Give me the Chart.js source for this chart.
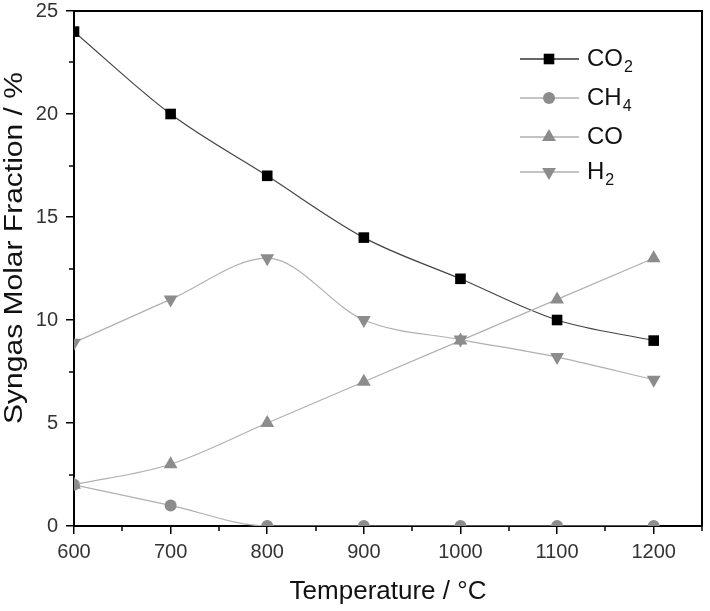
<!DOCTYPE html>
<html>
<head>
<meta charset="utf-8">
<script src="https://cdn.jsdelivr.net/npm/chart.js@4"></script>
<style>
  html, body { margin: 0; padding: 0; background: #fff; }
  #wrap { width: 710px; height: 611px; }
</style>
</head>
<body>
<div id="wrap"><canvas id="myChart" width="710" height="611"></canvas></div>
<script>
// Data
const temps = [600, 700, 800, 900, 1000, 1100, 1200];
const co2 = [24, 20, 17, 14, 12, 10, 9];
const ch4 = [2, 1, 0, 0, 0, 0, 0];
const co = [2, 3, 5, 7, 9, 11, 13];
const h2 = [8.9, 11, 13, 10, 9.05, 8.2, 7.1];

const xMajor = [600, 700, 800, 900, 1000, 1100, 1200];
const xMinor = [650, 750, 850, 950, 1050, 1150, 1250];
const yMajor = [0, 5, 10, 15, 20, 25];
const yMinor = [2.5, 7.5, 12.5, 17.5, 22.5];

const FONT = "'Liberation Sans', Arial, sans-serif";
const Y_TITLE = 'Syngas Molar Fraction / %';

function toPoints(vals) {
    return temps.map((t, i) => ({ x: t, y: vals[i] }));
}

// Legend entries: base text + subscript
const legendItems = [
    { base: 'CO', sub: '2', line: '#333', marker: '#000', style: 'rect', radius: 7.5 },
    { base: 'CH', sub: '4', line: '#b0b0b0', marker: '#8c8c8c', style: 'circle', radius: 6 },
    { base: 'CO', sub: '', line: '#b0b0b0', marker: '#8c8c8c', style: 'triangle', radius: 8 },
    { base: 'H', sub: '2', line: '#b0b0b0', marker: '#8c8c8c', style: 'triangle', radius: 8, rot: 180 }
];

// Frame, minor ticks, y title and legend drawn on top
const framePlugin = {
    id: 'frame',
    afterDraw(chart) {
        const ctx = chart.ctx;
        const a = chart.chartArea;
        const xs = chart.scales.x, ys = chart.scales.y;
        ctx.save();
        ctx.strokeStyle = '#000';
        ctx.lineWidth = 2;
        ctx.beginPath();
        ctx.moveTo(a.left, a.top);
        ctx.lineTo(a.right, a.top);
        ctx.lineTo(a.right, a.bottom);
        ctx.stroke();
        // minor ticks
        ctx.lineWidth = 1.5;
        ctx.beginPath();
        xMinor.forEach(v => {
            const px = Math.round(xs.getPixelForValue(v));
            ctx.moveTo(px, a.bottom);
            ctx.lineTo(px, a.bottom + 5);
        });
        yMinor.forEach(v => {
            const py = Math.round(ys.getPixelForValue(v));
            ctx.moveTo(a.left, py);
            ctx.lineTo(a.left - 5, py);
        });
        ctx.stroke();

        // y title (stretched along its length like the original export)
        ctx.save();
        ctx.translate(22, 248);
        ctx.rotate(-Math.PI / 2);
        ctx.scale(1.2, 1);
        ctx.fillStyle = '#111';
        ctx.font = '25px ' + FONT;
        ctx.textAlign = 'center';
        ctx.textBaseline = 'alphabetic';
        ctx.fillText(Y_TITLE, 0, 0);
        ctx.restore();

        // legend
        const rows = [59, 98, 137, 172];
        legendItems.forEach((it, i) => {
            const y = rows[i];
            ctx.strokeStyle = it.line;
            ctx.lineWidth = 1.3;
            ctx.beginPath();
            ctx.moveTo(520, y);
            ctx.lineTo(579, y);
            ctx.stroke();
            ctx.fillStyle = it.marker;
            ctx.strokeStyle = it.marker;
            Chart.helpers.drawPoint(ctx, {
                pointStyle: it.style, radius: it.radius, rotation: it.rot || 0, borderWidth: 0
            }, 549, y);
            ctx.fillStyle = '#111';
            ctx.textBaseline = 'middle';
            ctx.textAlign = 'left';
            ctx.font = '24px ' + FONT;
            ctx.fillText(it.base, 587, y);
            if (it.sub) {
                const w = ctx.measureText(it.base).width;
                ctx.font = '16px ' + FONT;
                ctx.fillText(it.sub, 587 + w + 1, y + 9);
            }
        });
        ctx.restore();
    }
};

const ctx = document.getElementById('myChart').getContext('2d');
const myChart = new Chart(ctx, {
    type: 'line',
    data: {
        datasets: [
            {
                label: 'CO2', data: toPoints(co2),
                borderColor: '#444', borderWidth: 1.2,
                pointStyle: 'rect', pointRadius: 7.5,
                pointBackgroundColor: '#000', pointBorderColor: '#000', pointBorderWidth: 0
            },
            {
                label: 'CH4', data: toPoints(ch4),
                borderColor: '#b0b0b0', borderWidth: 1.2,
                pointStyle: 'circle', pointRadius: 6,
                pointBackgroundColor: '#8c8c8c', pointBorderColor: '#8c8c8c', pointBorderWidth: 0
            },
            {
                label: 'CO', data: toPoints(co),
                borderColor: '#b0b0b0', borderWidth: 1.2,
                pointStyle: 'triangle', pointRadius: 8,
                pointBackgroundColor: '#8c8c8c', pointBorderColor: '#8c8c8c', pointBorderWidth: 0
            },
            {
                label: 'H2', data: toPoints(h2),
                borderColor: '#b0b0b0', borderWidth: 1.2,
                pointStyle: 'triangle', pointRotation: 180, pointRadius: 8,
                pointBackgroundColor: '#8c8c8c', pointBorderColor: '#8c8c8c', pointBorderWidth: 0
            }
        ].reverse()
    },
    options: {
        responsive: false,
        animation: false,
        cubicInterpolationMode: 'monotone',
        layout: { padding: { top: 11, right: 0, left: 0, bottom: 0 } },
        plugins: {
            legend: { display: false },
            tooltip: { enabled: false }
        },
        scales: {
            x: {
                type: 'linear',
                min: 600, max: 1250,
                afterBuildTicks: s => { s.ticks = xMajor.map(v => ({ value: v })); },
                afterFit: s => {
                    s.height = 85;
                    s.paddingLeft = 0; s.paddingRight = 0;
                },
                grid: { drawOnChartArea: false, tickLength: 8, color: '#000', lineWidth: 1.5 },
                border: { color: '#000', width: 2 },
                ticks: {
                    color: '#333', padding: 6, font: { family: FONT, size: 20 }, maxRotation: 0,
                    callback: v => String(v)
                },
                title: {
                    display: true, text: 'Temperature / °C', color: '#111',
                    font: { family: FONT, size: 26 }, padding: { top: 4 }
                }
            },
            y: {
                min: 0, max: 25,
                afterBuildTicks: s => { s.ticks = yMajor.map(v => ({ value: v })); },
                afterFit: s => {
                    s.width = 74;
                    s.paddingTop = 0; s.paddingBottom = 0;
                },
                grid: { drawOnChartArea: false, tickLength: 8, color: '#000', lineWidth: 1.5 },
                border: { color: '#000', width: 2 },
                ticks: {
                    color: '#333', padding: 8, font: { family: FONT, size: 20 },
                    callback: v => String(v)
                },
                title: { display: false }
            }
        }
    },
    plugins: [framePlugin]
});
</script>
</body>
</html>
